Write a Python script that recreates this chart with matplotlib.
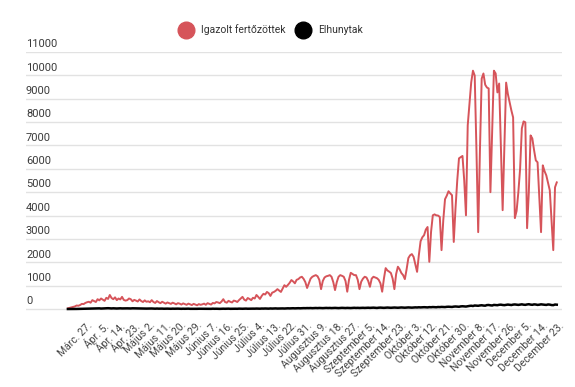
import matplotlib.pyplot as plt
from matplotlib.lines import Line2D
import matplotlib.transforms as mtransforms

plt.rcParams['font.family'] = ['Roboto', 'DejaVu Sans']

# napi adatok (Márc. 16-tól Dec. 22-ig, egy nap hiányzik szept. végén)
cases_mar = [30, 50, 70, 90, 110, 150, 140, 170, 220, 210, 260, 290, 310, 270, 380, 340]
cases_apr = [300, 420, 370, 450, 400, 350, 480, 430, 600, 470, 420, 500, 380, 450, 410,
             520, 390, 360, 380, 450, 420, 330, 390, 360, 320, 410, 340, 300, 370, 310]
cases_may = [330, 290, 380, 300, 260, 340, 290, 250, 310, 270, 230, 280, 250, 220, 270, 240,
             200, 250, 230, 190, 240, 210, 180, 230, 200, 170, 220, 190, 160, 210, 180]
cases_jun = [200, 230, 180, 250, 220, 190, 260, 240, 300, 280, 250, 320, 420, 300, 270,
             350, 310, 280, 360, 340, 300, 380, 450, 520, 400, 360, 470, 430, 380, 480]
cases_jul = [450, 600, 520, 430, 560, 650, 620, 730, 680, 560, 700, 730, 780, 850, 790, 730,
             880, 1020, 950, 1030, 1120, 1240, 1180, 1100, 1250, 1280, 1350, 1380, 1290, 1150, 900]
cases_aug = [1100, 1300, 1380, 1420, 1450, 1400, 1250, 850, 1200, 1350, 1400, 1420, 1450, 1380,
             1150, 810, 1150, 1380, 1450, 1420, 1380, 1200, 740, 1250, 1550, 1500, 1450, 1450,
             1250, 850, 1170]
cases_sep = [1300, 1380, 1350, 1200, 950, 1300, 1380, 1350, 1320, 1250, 1100, 740, 1300, 1750,
             1650, 1600, 1540, 1300, 850, 1500, 1810, 1700, 1540, 1450, 1280, 1700, 2180, 2300,
             2350, 2230]
cases_oct = [1900, 1590, 2300, 2900, 3070, 3160, 3400, 3510, 2020, 3300, 4010, 4050, 4010, 4000,
             3940, 2520, 3800, 4700, 4850, 5040, 4950, 4870, 2870, 4300, 5500, 6450, 6500, 6550,
             5500, 4010]
cases_nov = [7860, 8800, 9700, 10200, 9990, 6800, 3290, 6800, 9860, 10080, 9600, 9480, 9440,
             5000, 7600, 10200, 10080, 9270, 9650, 7000, 4230, 6900, 9690, 9200, 8840, 8500,
             8200, 3890, 4200, 5000]
cases_dec = [6000, 7730, 8030, 7990, 3460, 5000, 7430, 7300, 6800, 6360, 6280, 4800, 3290, 6150,
             5900, 5720, 5400, 5080, 3800, 2520, 5210, 5420]

deaths_mar = [0, 0, 1, 2, 2, 3, 5, 5, 7, 10, 12, 15, 15, 18, 20, 22]
deaths_apr = [25, 30, 28, 20, 25, 27, 30, 35, 28, 24, 30, 26, 22, 28, 30, 25, 27, 30, 28, 26,
              24, 30, 28, 25, 22, 20, 24, 21, 19, 18]
deaths_may = [20, 18, 22, 16, 14, 20, 15, 18, 17, 12, 14, 16, 13, 10, 15, 12, 14, 16, 11, 9,
              13, 10, 12, 15, 9, 8, 11, 10, 9, 12, 10]
deaths_jun = [8, 10, 9, 12, 11, 8, 14, 10, 12, 9, 7, 11, 13, 10, 12, 15, 9, 11, 14, 12, 10, 16,
              13, 11, 15, 17, 12, 14, 18, 16]
deaths_jul = [15, 19, 17, 14, 20, 18, 22, 21, 16, 24, 19, 23, 26, 20, 22, 28, 25, 21, 27, 30,
              26, 29, 33, 28, 31, 35, 30, 34, 38, 36, 40]
deaths_aug = [38, 42, 36, 40, 44, 39, 45, 41, 38, 43, 47, 42, 46, 40, 44, 48, 43, 39, 45, 50,
              46, 42, 48, 44, 41, 47, 52, 46, 50, 45, 49]
deaths_sep = [52, 47, 51, 55, 49, 53, 58, 51, 46, 56, 60, 54, 50, 57, 62, 55, 52, 59, 63, 57,
              54, 61, 66, 60, 56, 63, 68, 62, 58, 65]
deaths_oct = [70, 66, 74, 68, 72, 78, 73, 69, 80, 76, 84, 79, 75, 86, 82, 90, 87, 83, 94, 98,
              92, 88, 102, 108, 100, 96, 112, 118, 110, 105]
deaths_nov = [120, 132, 140, 128, 150, 145, 138, 152, 160, 148, 142, 168, 172, 158, 150, 175,
              170, 163, 180, 186, 172, 165, 178, 190, 182, 170, 188, 195, 184, 176]
deaths_dec = [190, 200, 185, 178, 195, 205, 188, 180, 198, 192, 176, 185, 200, 190, 182, 175,
              195, 188, 170, 165, 192, 185]

tick_labels = ["Márc. 27.", "Ápr. 5.", "Ápr. 14.", "Ápr. 23.", "Május 2.", "Május 11.",
               "Május 20.", "Május 29.", "Június 7.", "Június 16.", "Június 25.", "Július 4.",
               "Július 13.", "Július 22.", "Július 31.", "Augusztus 9.", "Augusztus 18.",
               "Augusztus 27.", "Szeptember 5.", "Szeptember 14.", "Szeptember 23.",
               "Október 3.", "Október 12.", "Október 21.", "Október 30.", "November 8.",
               "November 17.", "November 26.", "December 5.", "December 14.", "December 23."]
y_ticks = [0, 1000, 2000, 3000, 4000, 5000, 6000, 7000, 8000, 9000, 10000, 11000]

cases = (cases_mar + cases_apr + cases_may + cases_jun + cases_jul + cases_aug
         + cases_sep + cases_oct + cases_nov + cases_dec)
deaths = (deaths_mar + deaths_apr + deaths_may + deaths_jun + deaths_jul + deaths_aug
          + deaths_sep + deaths_oct + deaths_nov + deaths_dec)
x = list(range(len(cases)))

red = "#d6545a"

fig = plt.figure(figsize=(5.75, 3.87), dpi=100)
ax = fig.add_axes([26 / 575, 75 / 387, 536 / 575, 260 / 387])

ax.plot(x, cases, color=red, linewidth=1.4, zorder=3)
ax.plot(x, deaths, color="black", linewidth=1.8, zorder=4)

ax.set_xlim(-24, 283)
ax.set_ylim(-128, 11000)

ax.set_yticks(y_ticks)
ax.set_yticklabels([])
ax.grid(axis="y", color="#e2e2e2", linewidth=1)
ax.set_axisbelow(True)
ax.tick_params(axis="both", length=0)

# y feliratok a rácsvonalak fölött, balra igazítva
trans = mtransforms.blended_transform_factory(ax.transAxes, ax.transData)
for v in y_ticks:
    ax.annotate(str(v), xy=(0, v), xycoords=trans, xytext=(0, 2), textcoords="offset points",
                ha="left", va="bottom", fontsize=8, color="#3a3a3a")

ax.set_xticks([11 + 9 * k for k in range(len(tick_labels))])
ax.set_xticklabels(tick_labels, rotation=45, ha="right", rotation_mode="anchor",
                   fontsize=7.5, color="#444444")
ax.tick_params(axis="x", pad=6)

for s in ax.spines.values():
    s.set_visible(False)

handles = [Line2D([], [], marker="o", linestyle="", markersize=12, color=red),
           Line2D([], [], marker="o", linestyle="", markersize=12, color="black")]
fig.legend(handles, ["Igazolt fertőzöttek", "Elhunytak"], loc="center",
           bbox_to_anchor=(0.468, 0.923), ncol=2, frameon=False, fontsize=7.5,
           handletextpad=0.5, columnspacing=0.6, labelcolor="#333333")

fig.savefig("out.png", dpi=100)
